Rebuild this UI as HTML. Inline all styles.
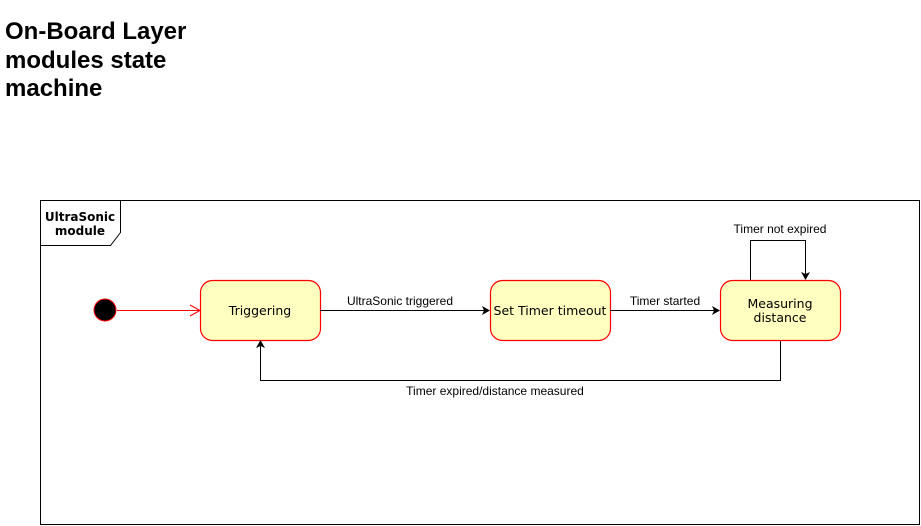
<!DOCTYPE html>
<html><head><meta charset="utf-8"><style>
body{margin:0;background:#fff;width:921px;height:526px;overflow:hidden}
h1{position:absolute;left:5px;top:18px;margin:0;font:bold 24px/28.5px "Liberation Sans",sans-serif;color:#000}
</style></head><body>
<h1>On-Board Layer<br>modules state<br>machine</h1>
<svg width="921" height="526" style="position:absolute;left:0;top:0" font-family="DejaVu Sans, sans-serif">
<rect x="40.5" y="200.5" width="879" height="324" fill="none" stroke="#000"/>
<path d="M40.5 245.5 H110.5 L120.5 232.5 V200.5" fill="none" stroke="#000"/>
<text x="80" y="221" font-size="12" font-weight="bold" text-anchor="middle">UltraSonic</text>
<text x="80" y="235" font-size="12" font-weight="bold" text-anchor="middle">module</text>
<circle cx="105" cy="310" r="11" fill="#000" stroke="#f00"/>
<line x1="117" y1="310.5" x2="199" y2="310.5" stroke="#f00"/>
<path d="M190 305 L200 310.5 L190 316" fill="none" stroke="#f00"/>
<g fill="#ffffc0" stroke="#f00" stroke-width="1.2">
<rect x="200.5" y="280.5" width="120" height="60" rx="12"/>
<rect x="490.5" y="280.5" width="120" height="60" rx="12"/>
<rect x="720.5" y="280.5" width="120" height="60" rx="12"/>
</g>
<g font-size="12.5" text-anchor="middle">
<text x="260" y="315">Triggering</text>
<text x="550" y="315">Set Timer timeout</text>
<text x="780" y="308">Measuring</text>
<text x="780" y="322">distance</text>
</g>
<g stroke="#000" fill="none">
<line x1="320" y1="310.5" x2="484" y2="310.5"/>
<line x1="610" y1="310.5" x2="714" y2="310.5"/>
<path d="M750.5 280 V240.5 H805.5 V274"/>
<path d="M780.5 341 V380.5 H260.5 V346"/>
</g>
<g fill="#000">
<path d="M490 310.5 L482 306 L484 310.5 L482 315Z"/>
<path d="M720 310.5 L712 306 L714 310.5 L712 315Z"/>
<path d="M805.5 280 L801 272 L805.5 274 L810 272Z"/>
<path d="M260.5 340 L256 348 L260.5 346 L265 348Z"/>
</g>
<g font-family="Liberation Sans, sans-serif" font-size="12" text-anchor="middle">
<text x="400" y="305">UltraSonic triggered</text>
<text x="665" y="305">Timer started</text>
<text x="780" y="233">Timer not expired</text>
<text x="495" y="395">Timer expired/distance measured</text>
</g>
</svg>
</body></html>
